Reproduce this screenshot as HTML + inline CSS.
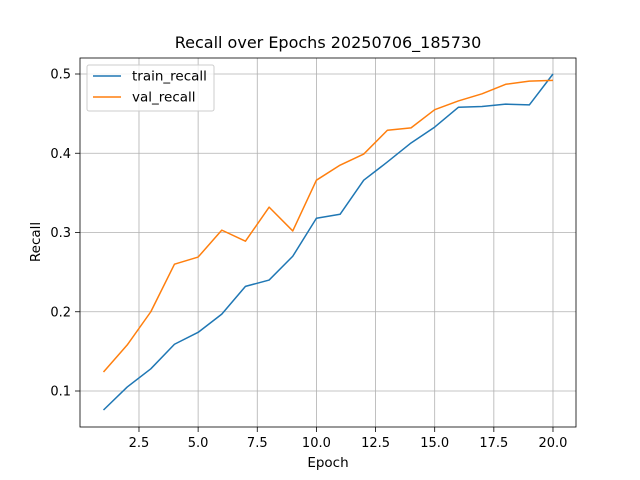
<!DOCTYPE html>
<html><head><meta charset="utf-8"><style>
body{margin:0;background:#fff}
svg{display:block;font-family:"DejaVu Sans","Liberation Sans",sans-serif}
</style></head><body>
<svg id="chart" width="640" height="480" viewBox="0 0 640 480">
<rect width="640" height="480" fill="#fff"/>
<text x="328" y="48" font-size="16" text-anchor="middle">Recall over Epochs 20250706_185730</text>
<g id="grid"></g><g id="ticks"></g><g id="lines"></g>
<rect x="80" y="58" width="496" height="369" fill="none" stroke="#000" stroke-width="0.8"/>
<text x="328" y="467" font-size="13.5" text-anchor="middle">Epoch</text>
<text x="40" y="242" font-size="13.5" text-anchor="middle" transform="rotate(-90 40 242)">Recall</text>
<g>
<rect x="87" y="65" width="127" height="46" rx="2" fill="#fff" fill-opacity="0.8" stroke="#ccc"/>
<line x1="93" y1="76" x2="121" y2="76" stroke="#1f77b4" stroke-width="1.5"/>
<text x="132" y="80.5" font-size="13.5">train_recall</text>
<line x1="93" y1="97" x2="121" y2="97" stroke="#ff7f0e" stroke-width="1.5"/>
<text x="132" y="101.5" font-size="13.5">val_recall</text>
</g>
</svg>
<script>
const epochs=[1,2,3,4,5,6,7,8,9,10,11,12,13,14,15,16,17,18,19,20];
const trainRecall=[0.076,0.105,0.128,0.159,0.174,0.197,0.232,0.240,0.270,0.318,0.323,0.366,0.389,0.413,0.433,0.458,0.459,0.462,0.461,0.500];
const valRecall=[0.124,0.158,0.200,0.260,0.269,0.303,0.289,0.332,0.302,0.366,0.385,0.399,0.429,0.432,0.455,0.466,0.475,0.487,0.491,0.492];
const xTicks=[2.5,5.0,7.5,10.0,12.5,15.0,17.5,20.0];
const yTicks=[0.1,0.2,0.3,0.4,0.5];
const NS="http://www.w3.org/2000/svg";
function xs(v){return 103.5+(v-1)*23.657;}
function ys(v){return 391-(v-0.1)*792.5;}
function mk(tag,attrs,parent){const e=document.createElementNS(NS,tag);for(const k in attrs)e.setAttribute(k,attrs[k]);document.getElementById(parent).appendChild(e);return e;}
xTicks.forEach(t=>{
 const g=mk('line',{x1:xs(t),x2:xs(t),y1:58,y2:427,stroke:'#b0b0b0','stroke-width':0.8},'grid');
 
 
 mk('line',{x1:xs(t),x2:xs(t),y1:427,y2:432,stroke:'#000','stroke-width':0.8},'ticks');
 const l=mk('text',{x:xs(t),y:447,'font-size':13,'text-anchor':'middle'},'ticks');
 l.textContent=t.toFixed(1);
 
 
});
yTicks.forEach(t=>{
 const g=mk('line',{x1:80,x2:576,y1:ys(t),y2:ys(t),stroke:'#b0b0b0','stroke-width':0.8},'grid');
 
 
 mk('line',{x1:75,x2:80,y1:ys(t),y2:ys(t),stroke:'#000','stroke-width':0.8},'ticks');
 const l=mk('text',{x:71,y:ys(t)+4.5,'font-size':13,'text-anchor':'end'},'ticks');
 l.textContent=t.toFixed(1);
 
 
});
function series(vals,color,name){
 const p=mk('polyline',{points:vals.map((v,i)=>xs(epochs[i])+','+ys(v)).join(' '),fill:'none',stroke:color,'stroke-width':1.5,'stroke-linejoin':'round'},'lines');
 
 
}
series(trainRecall,'#1f77b4','train-recall-line');
series(valRecall,'#ff7f0e','val-recall-line');
</script>
</body></html>
